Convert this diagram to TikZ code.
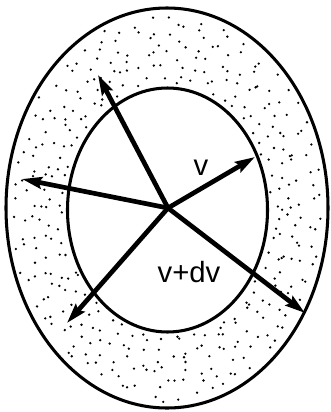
\documentclass[tikz,border=0pt]{standalone}
\usepackage{fontspec}
\newfontfamily\lblfont{Liberation Sans}
\usetikzlibrary{arrows.meta,positioning}

\begin{document}
\begin{tikzpicture}[
			x=0.03cm,y=-0.03cm,
			rim/.style={line width=2.6pt},
			vec/.style={line width=4pt,-{Stealth[length=17pt,width=10pt,inset=2.5pt]}},
			grain/.style={fill=black},
			lbl/.style={font=\lblfont\fontsize{25}{28}\selectfont,inner sep=0pt}
			]
			\useasboundingbox (0,0) rectangle (331,412);
			
			% shell between the two surfaces
			\pgfmathsetseed{11}
			\foreach \j in {0,...,5}
			\foreach \i in {0,...,59}{
				\pgfmathsetmacro\ang{6*\i+6*rnd+2*\j}
				\pgfmathsetmacro\fr{0.06+0.145*(\j+rnd)}
				\fill[grain] ({(1-\fr)*(167.5+100*cos(\ang))+\fr*(167+161*cos(\ang))},
				{(1-\fr)*(210+122*sin(\ang))+\fr*(208+200*sin(\ang))}) circle (1.1pt);
			}
			
			\draw[rim] (167,208) ellipse [x radius=161,y radius=200];
			\draw[rim] (167.5,210) ellipse [x radius=100,y radius=122];
			
			\coordinate (o) at (168,208);
			\coordinate (tipA) at (98,75);
			\coordinate (tipB) at (22,179);
			\coordinate (tipC) at (255,157);
			\coordinate (tipD) at (67,323);
			\coordinate (tipE) at (305,313);
			
			\foreach \t in {tipA,tipB,tipC,tipD,tipE}
			\draw[vec] (o)--(\t);
			
			\node[lbl] (vlab) at (201,168) {v};
			\node[lbl] (dvlab) at (189,272) {v+dv};
			
		\end{tikzpicture}
\end{document}
